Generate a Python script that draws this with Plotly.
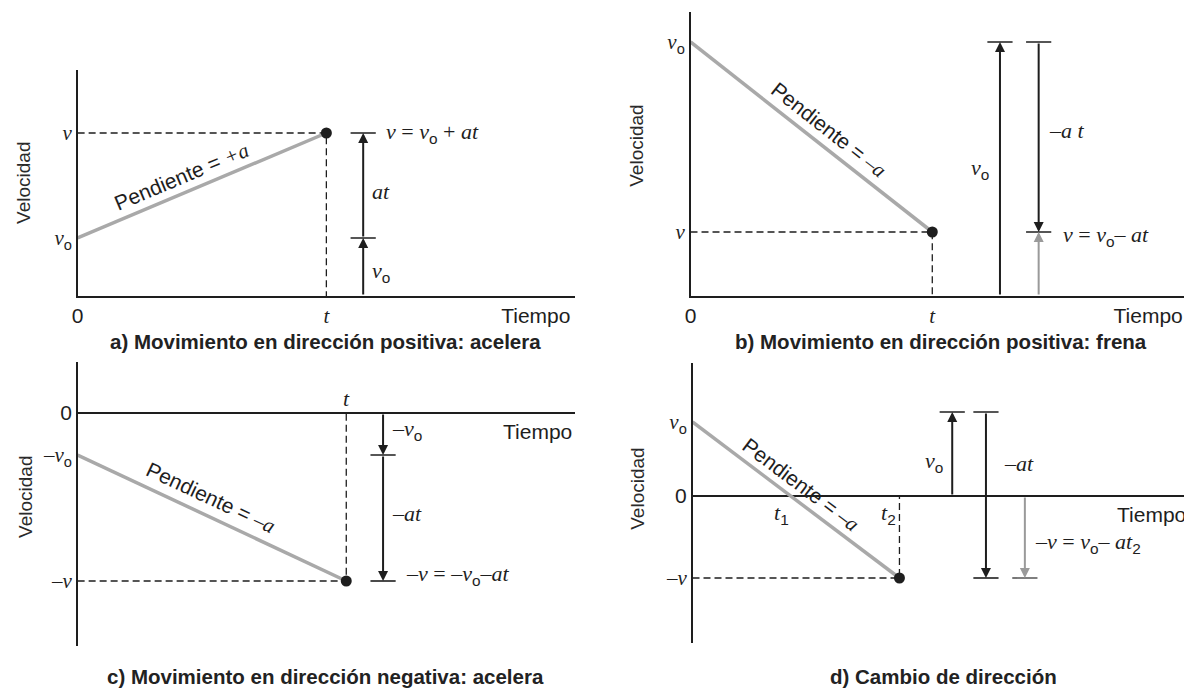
import math
import plotly.graph_objects as go

W, H = 1184, 688

# ---------------- data (arbitrary units) ----------------
# a) Movimiento en dirección positiva: acelera
a_time = [0.0, 1.0]          # 0, t
a_vel = [0.58, 1.63]         # v0, v
# b) Movimiento en dirección positiva: frena
b_time = [0.0, 1.0]          # 0, t
b_vel = [2.54, 0.64]         # v0, v
# c) Movimiento en dirección negativa: acelera
c_time = [0.0, 1.0]          # 0, t
c_vel = [-0.42, -1.68]       # -v0, -v
# d) Cambio de dirección
d_time = [0.0, 1.0]          # 0, t2
d_vel = [0.74, -0.82]        # v0, -v
d_arrow_top = 0.84           # level of the upper caps of the vector arrows in d

titles = [
    "a) Movimiento en dirección positiva: acelera",
    "b) Movimiento en dirección positiva: frena",
    "c) Movimiento en dirección negativa: acelera",
    "d) Cambio de dirección",
]
y_title = "Velocidad"
x_title = "Tiempo"

# ---------------- styling / placement ----------------
SANS = "Liberation Sans"
SERIF = "Liberation Serif"
INK = "#1e1e1e"
GRAY_LINE = "#a9a9a9"
GRAY_ARROW = "#9a9a9a"
FS = 21      # tick labels
LS = 22      # formula labels


def it(s):
    return f'<span style="font-family:{SERIF}"><i>{s}</i></span>'


def ser(s):
    return f'<span style="font-family:{SERIF}">{s}</span>'


SUBO = "<sub>o</sub>"

# panel frames in pixels (x0, x1), (ytop, ybottom) and data ranges
frames = {
    "a": dict(xd=(72, 572), yd=(70, 296), xr=(0, 2.0), yr=(0, 2.26), ax=("x", "y")),
    "b": dict(xd=(688, 1184), yd=(12, 296), xr=(0, 496 / 243), yr=(0, 2.84), ax=("x2", "y2")),
    "c": dict(xd=(72, 572), yd=(362, 646), xr=(0, 500 / 270), yr=(-2.33, 0.51), ax=("x3", "y3")),
    "d": dict(xd=(690, 1184), yd=(363, 643), xr=(0, 494 / 208), yr=(-1.47, 1.33), ax=("x4", "y4")),
}


def ppu(f):
    px = (f["xd"][1] - f["xd"][0]) / (f["xr"][1] - f["xr"][0])
    py = (f["yd"][1] - f["yd"][0]) / (f["yr"][1] - f["yr"][0])
    return px, py


def slope_angle(f, t, v):
    px, py = ppu(f)
    return -math.degrees(math.atan2((v[1] - v[0]) * py, (t[1] - t[0]) * px))


fig = go.Figure()
ann = []


def add_panel(key, t, v):
    f = frames[key]
    xn, yn = f["ax"]
    # dashed guide lines: v level to the end point, then down to zero
    fig.add_trace(go.Scatter(x=[t[0], t[1], t[1]], y=[v[1], v[1], 0], mode="lines",
                             line=dict(color=INK, width=1.3, dash="7px,4px"),
                             xaxis=xn, yaxis=yn, hoverinfo="skip"))
    # velocity line
    fig.add_trace(go.Scatter(x=t, y=v, mode="lines", line=dict(color=GRAY_LINE, width=3.5),
                             xaxis=xn, yaxis=yn, hoverinfo="skip"))
    # end point
    fig.add_trace(go.Scatter(x=[t[1]], y=[v[1]], mode="markers",
                             marker=dict(color=INK, size=11), xaxis=xn, yaxis=yn, hoverinfo="skip"))


def arrow(key, x, y0, y1, color=INK):
    xn, yn = frames[key]["ax"]
    ann.append(dict(xref=xn, yref=yn, axref=xn, ayref=yn, x=x, y=y1, ax=x, ay=y0,
                    showarrow=True, arrowhead=2, arrowsize=1, arrowwidth=2,
                    arrowcolor=color, text="", standoff=0, startstandoff=0))


def caps(key, xs, ys, color=INK):
    xn, yn = frames[key]["ax"]
    fig.add_trace(go.Scatter(x=xs, y=ys, mode="markers",
                             marker=dict(symbol="line-ew", size=18,
                                         line=dict(color=color, width=1.6)),
                             xaxis=xn, yaxis=yn, hoverinfo="skip"))


def label(key, x, y, text, xanchor="left", xshift=0, yshift=0, angle=0, size=LS):
    xn, yn = frames[key]["ax"]
    ann.append(dict(xref=xn, yref=yn, x=x, y=y, text=text, showarrow=False,
                    xanchor=xanchor, yanchor="middle", xshift=xshift, yshift=yshift,
                    textangle=angle, font=dict(family=SANS, size=size, color=INK)))


def slope_label(key, t, v, frac, sign, xshift, yshift):
    x = t[0] + frac * (t[1] - t[0])
    y = v[0] + frac * (v[1] - v[0])
    label(key, x, y, "Pendiente = " + it(sign + "a"), xanchor="center",
          xshift=xshift, yshift=yshift, angle=slope_angle(frames[key], t, v), size=21)


# ---- panel a ----
add_panel("a", a_time, a_vel)
xa = 1.148
arrow("a", xa, 0, a_vel[0])
arrow("a", xa, a_vel[0], a_vel[1])
caps("a", [xa, xa], [a_vel[0], a_vel[1]])
label("a", xa, a_vel[1], it("v") + ser(" = ") + it("v") + SUBO + ser(" + ") + it("at"), xshift=21)
label("a", xa, (a_vel[0] + a_vel[1]) / 2, it("at"), xshift=7, yshift=-6)
label("a", xa, a_vel[0] / 2, it("v") + SUBO, xshift=7, yshift=-5)
slope_label("a", a_time, a_vel, 0.44, "+", -6, 15)

# ---- panel b ----
add_panel("b", b_time, b_vel)
xb1, xb2 = 1.28, 1.44
arrow("b", xb1, 0, b_vel[0])
arrow("b", xb2, b_vel[0], b_vel[1])
arrow("b", xb2, 0, b_vel[1], GRAY_ARROW)
caps("b", [xb1, xb2, xb2], [b_vel[0], b_vel[0], b_vel[1]])
label("b", xb1, b_vel[0] / 2, it("v") + SUBO, xanchor="right", xshift=-9)
label("b", xb2, (b_vel[0] + b_vel[1]) / 2, it("–a t"), xshift=8, yshift=7)
label("b", xb2, b_vel[1], it("v") + ser(" = ") + it("v") + SUBO + ser("– ") + it("at"), xshift=22, yshift=-4)
slope_label("b", b_time, b_vel, 0.531, "–", 10, 13)

# ---- panel c ----
add_panel("c", c_time, c_vel)
xc = 1.137
arrow("c", xc, 0, c_vel[0])
arrow("c", xc, c_vel[0], c_vel[1])
caps("c", [xc, xc], [c_vel[0], c_vel[1]])
label("c", xc, c_vel[0] / 2, it("–v") + SUBO, xshift=7, yshift=4)
label("c", xc, (c_vel[0] + c_vel[1]) / 2, it("–at"), xshift=7, yshift=5)
label("c", xc, c_vel[1], it("–v") + ser(" = ") + it("–v") + SUBO + it("–at"), xshift=21, yshift=6)
label("c", c_time[1], 0, it("t"), xanchor="center", yshift=15)
label("c", 1.713, 0, x_title, xanchor="center", yshift=-18, size=FS)
slope_label("c", c_time, c_vel, 0.467, "–", 8, 16)

# ---- panel d ----
add_panel("d", d_time, d_vel)
xd1, xd2, xd3 = 1.255, 1.418, 1.606
d_t1 = d_time[0] + (d_time[1] - d_time[0]) * d_vel[0] / (d_vel[0] - d_vel[1])
arrow("d", xd1, 0, d_arrow_top)
arrow("d", xd2, d_arrow_top, d_vel[1])
arrow("d", xd3, 0, d_vel[1], GRAY_ARROW)
caps("d", [xd1, xd2, xd2], [d_arrow_top, d_arrow_top, d_vel[1]])
caps("d", [xd3], [d_vel[1]], color="#555555")
label("d", xd1, d_arrow_top / 2, it("v") + SUBO, xanchor="right", xshift=-7, yshift=-8)
label("d", xd2, d_arrow_top / 2, it("–at"), xshift=16, yshift=-9)
label("d", xd3, d_vel[1] / 2, it("–v") + ser(" = ") + it("v") + SUBO + ser("– ") + it("at") + "<sub>2</sub>",
      xshift=8, yshift=-6)
label("d", d_t1, 0, it("t") + "<sub>1</sub>", xanchor="center", xshift=-9, yshift=-18)
label("d", d_time[1], 0, it("t") + "<sub>2</sub>", xanchor="center", xshift=-11, yshift=-18)
label("d", 2.22, 0, x_title, xanchor="center", yshift=-18, size=FS)
slope_label("d", d_time, d_vel, 0.481, "–", 9, 12)

# ---- axis titles (Velocidad) and panel captions ----
for (px, py) in [(18, 183), (634, 146), (20, 497), (634, 489)]:
    ann.append(dict(xref="paper", yref="paper", x=px / W, y=1 - py / H, text=y_title,
                    showarrow=False, textangle=-90, xanchor="center", yanchor="middle",
                    font=dict(family=SANS, size=19, color="#2a2a2a")))
for (px, py), txt in zip([(321, 341), (940, 341), (321, 676), (942, 676)], titles):
    ann.append(dict(xref="paper", yref="paper", x=px / W, y=1 - py / H, text=f"<b>{txt}</b>",
                    showarrow=False, xanchor="center", yanchor="middle",
                    font=dict(family=SANS, size=20.5, color="#222222")))

# ---------------- axes ----------------
layout_axes = {}
for key in "abcd":
    f = frames[key]
    xn, yn = f["ax"]
    xk = "xaxis" + xn[1:]
    yk = "yaxis" + yn[1:]
    xdom = [f["xd"][0] / W, f["xd"][1] / W]
    ydom = [1 - f["yd"][1] / H, 1 - f["yd"][0] / H]
    base = dict(showgrid=False, ticks="", fixedrange=True, ticklabeloverflow="allow",
                tickfont=dict(family=SANS, size=FS, color=INK))
    layout_axes[xk] = dict(base, domain=xdom, range=list(f["xr"]), anchor=yn, zeroline=False)
    layout_axes[yk] = dict(base, domain=ydom, range=list(f["yr"]), anchor=xn,
                           showline=True, linecolor=INK, linewidth=1.5)

layout_axes["xaxis"].update(showline=True, linecolor=INK, linewidth=1.5,
                            tickvals=[a_time[0], a_time[1], 1.842],
                            ticktext=["0", it("t"), x_title], ticklabelstandoff=0)
layout_axes["yaxis"].update(zeroline=False, tickvals=[a_vel[0], a_vel[1]],
                            ticktext=[it("v") + SUBO, it("v")])
layout_axes["xaxis2"].update(showline=True, linecolor=INK, linewidth=1.5,
                             tickvals=[b_time[0], b_time[1], 1.893],
                             ticktext=["0", it("t"), x_title], ticklabelstandoff=0)
layout_axes["yaxis2"].update(zeroline=False, tickvals=[b_vel[0], b_vel[1]],
                             ticktext=[it("v") + SUBO, it("v")])
layout_axes["xaxis3"].update(showline=False, showticklabels=False)
layout_axes["yaxis3"].update(zeroline=True, zerolinecolor=INK, zerolinewidth=1.5,
                             tickvals=[0, c_vel[0], c_vel[1]],
                             ticktext=["0", it("–v") + SUBO, it("–v")])
layout_axes["xaxis4"].update(showline=False, showticklabels=False)
layout_axes["yaxis4"].update(zeroline=True, zerolinecolor=INK, zerolinewidth=1.5,
                             tickvals=[0, d_vel[0], d_vel[1]],
                             ticktext=["0", it("v") + SUBO, it("–v")])

fig.update_layout(
    width=W, height=H, margin=dict(l=0, r=0, t=0, b=0),
    paper_bgcolor="white", plot_bgcolor="white", showlegend=False,
    font=dict(family=SANS, size=FS, color=INK),
    annotations=ann, **layout_axes,
)

fig.write_html("out.html", config=dict(displayModeBar=False, staticPlot=True),
               post_script="document.body.style.margin='0';document.body.style.overflow='hidden';")
